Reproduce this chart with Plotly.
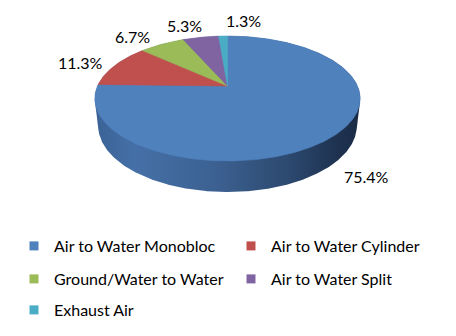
import numpy as np
import plotly.graph_objects as go

# ---------------- data ----------------
categories = ["Air to Water Monobloc", "Air to Water Cylinder",
              "Ground/Water to Water", "Air to Water Split", "Exhaust Air"]
shares = [75.4, 11.3, 6.7, 5.3, 1.3]          # percent
labels = ["75.4%", "11.3%", "6.7%", "5.3%", "1.3%"]

# ---------------- style ----------------
colors = ["#4f81bd", "#c0504d", "#9bbb59", "#8064a2", "#4bacc6"]
side_scale = [[0.0, "#3a6296"], [0.15, "#4570a7"], [0.45, "#3c6192"],
              [0.72, "#2d4a70"], [0.9, "#1f3453"], [1.0, "#1a2b44"]]
FONT = "Lato"
W, H = 456, 336

# perspective camera for the 3-D pie (screen units = pixels)
CX, CY = 227.5, 86.0          # screen position of pie centre
SIN_A = 0.4615                # sine of the elevation angle
COS_A = np.sqrt(1 - SIN_A ** 2)
DIST = COS_A / 0.2            # camera distance (pie radius = 1)
FOC = 130.0 * DIST            # focal length
DEPTH = 0.238                 # thickness of the pie
START = 90.0                  # first slice starts at 12 o'clock, clockwise

# label placement: outward gap from rim and small nudges (px)
label_gap = [30, 34, 26, 20, 18]
label_nudge = [(12, 0), (-1, 1), (-8, 1), (-7, -1), (22, -5)]


def proj(X, Y, Z):
    d = DIST + Y * COS_A - Z * SIN_A
    sx = CX + FOC * X / d
    sy = CY - FOC * (Y * SIN_A + Z * COS_A) / d
    return sx, sy


def hull(px, py):
    pts = sorted(set(zip(np.round(px, 3), np.round(py, 3))))

    def cross(o, a, b):
        return (a[0] - o[0]) * (b[1] - o[1]) - (a[1] - o[1]) * (b[0] - o[0])
    lower, upper = [], []
    for p in pts:
        while len(lower) >= 2 and cross(lower[-2], lower[-1], p) <= 0:
            lower.pop()
        lower.append(p)
    for p in reversed(pts):
        while len(upper) >= 2 and cross(upper[-2], upper[-1], p) <= 0:
            upper.pop()
        upper.append(p)
    h = lower[:-1] + upper[:-1]
    h.append(h[0])
    return [p[0] for p in h], [p[1] for p in h]


fig = go.Figure()

# side of the pie (cylinder wall)
phi = np.linspace(0, 2 * np.pi, 721)
tx, ty = proj(np.cos(phi), np.sin(phi), 0.0)
bx, by = proj(np.cos(phi), np.sin(phi), -DEPTH)
hx, hy = hull(np.concatenate([tx, bx]), np.concatenate([ty, by]))
fig.add_trace(go.Scatter(
    x=hx, y=hy, mode="lines", fill="toself", line=dict(width=0),
    fillgradient=dict(type="horizontal", colorscale=side_scale),
    hoverinfo="skip", showlegend=False))

# top face slices
cum = np.concatenate([[0], np.cumsum(shares)]) / sum(shares)
annotations = []
for i, (cat, val) in enumerate(zip(categories, shares)):
    a0 = np.radians(START - 360 * cum[i])
    a1 = np.radians(START - 360 * cum[i + 1])
    n = max(int(abs(a1 - a0) / np.radians(0.5)), 4)
    t = np.linspace(a0, a1, n)
    ax, ay = proj(np.cos(t), np.sin(t), 0.0)
    cx0, cy0 = proj(0.0, 0.0, 0.0)
    xs = np.concatenate([[cx0], ax, [cx0]])
    ys = np.concatenate([[cy0], ay, [cy0]])
    fig.add_trace(go.Scatter(
        x=xs, y=ys, mode="lines", fill="toself",
        fillcolor=colors[i], line=dict(color=colors[i], width=0.6),
        name=cat, text=f"{cat}: {labels[i]}", hoverinfo="text",
        showlegend=False))

    # label position from mid angle
    am = (a0 + a1) / 2
    z = -DEPTH if np.sin(am) < 0 else 0.0
    ex, ey = proj(np.cos(am), np.sin(am), z)
    dx, dy = ex - cx0, ey - cy0
    nrm = np.hypot(dx, dy)
    lx = ex + dx / nrm * label_gap[i] + label_nudge[i][0]
    ly = ey + dy / nrm * label_gap[i] * 0.6 + label_nudge[i][1]
    annotations.append(dict(x=lx, y=ly, xref="x", yref="y", text=labels[i],
                            showarrow=False, xanchor="center", yanchor="middle",
                            font=dict(family=FONT, size=16, color="#000000")))

# legend entries (three rows, two columns)
legend_of = ["legend", "legend", "legend2", "legend2", "legend3"]
for i, cat in enumerate(categories):
    fig.add_trace(go.Scatter(
        x=[None], y=[None], mode="markers", name=cat,
        marker=dict(symbol="square", size=9, color=colors[i]),
        legend=legend_of[i], showlegend=True, hoverinfo="skip"))

leg_common = dict(orientation="h", xanchor="left", yanchor="middle",
                  entrywidth=172, entrywidthmode="pixels",
                  bgcolor="rgba(0,0,0,0)", borderwidth=0,
                  font=dict(family=FONT, size=16, color="#000000"),
                  itemclick=False, itemdoubleclick=False)
row_y = [246, 279, 310]
LEG_X = 14

fig.update_layout(
    width=W, height=H, margin=dict(l=0, r=0, t=0, b=0),
    paper_bgcolor="white", plot_bgcolor="white",
    xaxis=dict(range=[0, W], visible=False, fixedrange=True),
    yaxis=dict(range=[H, 0], visible=False, fixedrange=True),
    annotations=annotations,
    legend=dict(x=LEG_X / W, y=1 - row_y[0] / H, **leg_common),
    legend2=dict(x=LEG_X / W, y=1 - row_y[1] / H, **leg_common),
    legend3=dict(x=LEG_X / W, y=1 - row_y[2] / H, **leg_common),
)

fig.write_html("out.html")
